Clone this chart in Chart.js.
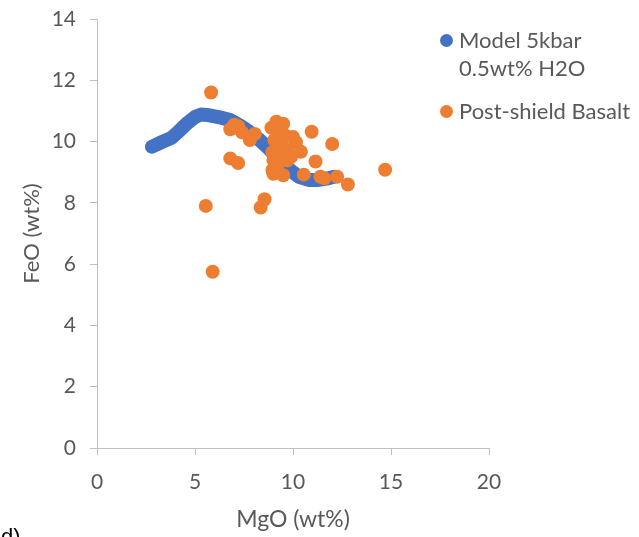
<!DOCTYPE html>
<html>
<head>
<meta charset="utf-8">
<script src="https://cdn.jsdelivr.net/npm/chart.js@4.4.1/dist/chart.umd.min.js"></script>
<style>
  html, body { margin: 0; padding: 0; background: #fff; width: 639px; height: 537px; overflow: hidden; }
  #wrap { position: relative; width: 639px; height: 537px; }
  canvas { position: absolute; left: 0; top: 0; }
  .leg { position: absolute; font-family: Lato, "Liberation Sans", sans-serif; font-size: 22px; color: #595959; line-height: 28px; }
  .dot { position: absolute; width: 13px; height: 13px; border-radius: 50%; }
  #dlabel { position: absolute; left: 1px; top: 524px; font-family: "Liberation Sans", Arial, sans-serif; font-size: 22px; color: #000; }
</style>
</head>
<body>
<div id="wrap">
  <canvas id="c" width="639" height="537"></canvas>
  <div class="dot" style="left:440px; top:34px; background:#4472c4;"></div>
  <div class="leg" id="leg1" style="left:459px; top:26px;">Model 5kbar<br>0.5wt% H2O</div>
  <div class="dot" style="left:440px; top:105px; background:#ed7d31;"></div>
  <div class="leg" id="leg2" style="left:459px; top:97px;">Post-shield Basalt</div>
  <div id="dlabel">d)</div>
</div>
<script>
const seriesNames = ["Model 5kbar 0.5wt% H2O", "Post-shield Basalt"];
const xTicks = [0, 5, 10, 15, 20];
const yTicks = [0, 2, 4, 6, 8, 10, 12, 14];

const modelMgO = [2.8, 3.3, 3.8, 4.2, 4.6, 5.0, 5.3, 5.6, 6.2, 6.8, 7.3, 7.8, 8.3, 8.8, 9.3, 9.8, 10.3, 10.8, 11.3, 11.8, 12.1];
const modelFeO = [9.83, 9.98, 10.12, 10.35, 10.6, 10.8, 10.88, 10.87, 10.8, 10.7, 10.52, 10.3, 10.05, 9.75, 9.4, 9.1, 8.85, 8.75, 8.75, 8.8, 8.85];

const basaltMgO = [5.82, 6.8, 7.0, 7.2, 7.4, 7.8, 8.05, 6.8, 7.2, 5.55, 5.9, 8.35, 8.55, 8.9, 9.15, 9.5, 9.05, 9.4, 10.0, 10.15, 9.2, 9.7, 8.95, 9.35, 9.9, 10.4, 9.0, 9.7, 8.95, 9.0, 9.5, 10.55, 10.95, 12.0, 11.15, 11.6, 12.25, 12.8, 14.7, 9.2, 9.6, 9.25, 11.4];
const basaltFeO = [11.6, 10.4, 10.55, 10.5, 10.3, 10.05, 10.25, 9.45, 9.3, 7.9, 5.75, 7.85, 8.12, 10.45, 10.65, 10.58, 10.05, 9.95, 10.15, 9.98, 9.85, 9.75, 9.65, 9.55, 9.5, 9.67, 9.4, 9.38, 9.07, 8.95, 8.9, 8.92, 10.32, 9.92, 9.35, 8.8, 8.85, 8.6, 9.08, 9.2, 10.2, 10.3, 8.85];

const toPts = (xs, ys) => xs.map((x, i) => ({ x: x, y: ys[i] }));

const axisColor = '#bfbfbf';
const textColor = '#595959';
const fontFam = 'Lato, "Liberation Sans", sans-serif';
const target = { top: 19, bottom: 448, left: 97, right: 489 };

const chart = new Chart(document.getElementById('c'), {
  type: 'scatter',
  data: {
    datasets: [
      {
        label: seriesNames[0],
        data: toPts(modelMgO, modelFeO),
        showLine: true,
        borderColor: '#4472c4',
        backgroundColor: '#4472c4',
        borderWidth: 14,
        borderCapStyle: 'round',
        borderJoinStyle: 'round',
        pointRadius: 0,
        pointHoverRadius: 0,
        tension: 0,
        order: 2
      },
      {
        label: seriesNames[1],
        data: toPts(basaltMgO, basaltFeO),
        backgroundColor: '#ed7d31',
        borderColor: '#ed7d31',
        borderWidth: 0,
        pointRadius: 7,
        order: 1
      }
    ]
  },
  options: {
    responsive: false,
    animation: false,
    layout: { padding: { left: 0, right: 150, top: 19, bottom: 0 } },
    plugins: { legend: { display: false }, tooltip: { enabled: false } },
    scales: {
      x: {
        type: 'linear',
        min: 0, max: 20,
        afterBuildTicks: (s) => { s.ticks = xTicks.map(v => ({ value: v })); },
        afterFit: (s) => { s.height = 89; },
        grid: { display: true, drawOnChartArea: false, drawTicks: true, tickLength: 7, color: axisColor },
        border: { display: true, color: axisColor, width: 1 },
        ticks: { color: textColor, font: { family: fontFam, size: 21 }, padding: 15 },
        title: { display: true, text: 'MgO (wt%)', color: textColor, font: { family: fontFam, size: 23 }, padding: { top: 0, bottom: 4 } }
      },
      y: {
        type: 'linear',
        min: 0, max: 14,
        afterBuildTicks: (s) => { s.ticks = yTicks.map(v => ({ value: v })); },
        afterFit: (s) => { s.width = 97; s.paddingTop = 12; s.paddingBottom = 12; },
        grid: { display: true, drawOnChartArea: false, drawTicks: true, tickLength: 7, color: axisColor },
        border: { display: true, color: axisColor, width: 1 },
        ticks: { color: textColor, font: { family: fontFam, size: 21 }, padding: 14 },
        title: { display: true, text: 'FeO (wt%)', color: textColor, font: { family: fontFam, size: 22 }, padding: { top: 19, bottom: 0 } }
      }
    }
  }
});

// nudge the layout padding so the plot area lands where the reference has it
for (let i = 0; i < 3; i++) {
  const ca = chart.chartArea;
  const p = chart.options.layout.padding;
  p.top = Math.max(0, p.top - (ca.top - target.top));
  p.bottom = Math.max(0, p.bottom + (ca.bottom - target.bottom));
  p.right = Math.max(0, p.right + (ca.right - target.right));
  chart.update();
}
</script>
</body>
</html>
